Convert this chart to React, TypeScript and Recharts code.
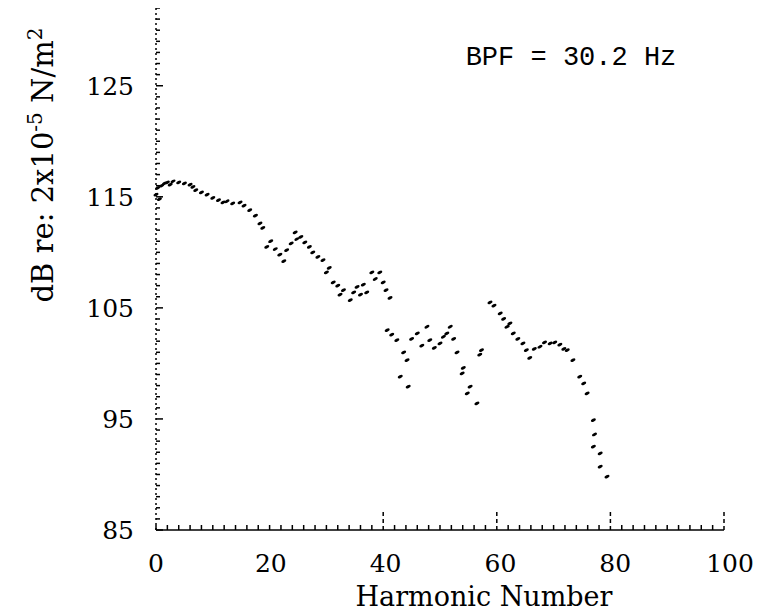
import { ScatterChart, Scatter, XAxis, YAxis, Label } from 'recharts'

// harmonic number / level (dB re 2x10^-5 N/m^2)
const harmonics = [
  0, 0.3, 0.6, 1, 1.5, 2, 2.5, 3, 4, 5, 6, 6.5, 7, 8, 9, 10, 11, 11.8, 12.5, 13.5,
  14.8, 15.5, 16.5, 17.5, 18.3, 18.8, 19.5, 20.2, 21, 21.8, 22.5, 23, 23.8, 24.5, 24.8, 25.5,
  26.2, 27, 27.6, 28.5, 29.4, 30, 30.5, 31.2, 32, 32.4, 33, 34.2, 34.8, 35.4, 36, 36.5,
  37.1, 38, 38.6, 39.4, 40, 40.5, 41.2,
  40.7, 41.5, 42.4, 43, 43.6, 44.2, 44.4, 45, 46, 46.8, 47.7, 48.2, 49, 50, 50.6, 51.2,
  51.8, 52.4, 53, 53.9, 54.1, 54.8, 55.3, 56.5, 57, 57.3,
  58.8, 59.5, 60.6, 61.2, 61.8, 62.3, 62.9, 63.7, 64.6, 65.2, 65.8, 66.6, 67.6, 68.4, 69.4,
  70.2, 71.1, 71.8, 72.4, 73.4, 74.6, 75.3, 75.9, 77, 77.2, 77, 78.2, 78.2, 79.4,
]
const levels = [
  115.2, 115.8, 114.8, 116, 116.2, 116.3, 116.1, 116.4, 116.3, 116.2, 116.1, 115.9, 115.6, 115.4, 115.2, 114.9, 114.7, 114.5, 114.6, 114.4,
  114.5, 114.2, 113.8, 113.3, 112.6, 112.2, 110.5, 111, 110.3, 109.8, 109.2, 110.2, 110.8, 111.8, 111.2, 111.4,
  110.9, 110.5, 110, 109.6, 109.3, 108.2, 108.6, 107.3, 107, 106.2, 106.6, 105.7, 106.4, 106.9, 106.2, 107.1,
  106.4, 108.2, 107.6, 108.2, 107.3, 106.6, 105.9,
  103, 102.6, 102.1, 98.8, 101, 100.3, 97.9, 102.2, 102.7, 101.6, 103.3, 102.1, 101.4, 101.8, 102.4, 102.7,
  103.3, 102.2, 101, 99.1, 99.6, 97.3, 97.9, 96.4, 100.8, 101.2,
  105.5, 105.2, 104.5, 104, 103.3, 103.6, 102.7, 102.2, 101.8, 101.2, 100.5, 101.3, 101.5, 101.9, 101.8,
  101.9, 101.7, 101.3, 101.2, 100.3, 98.8, 98.2, 97.3, 94.9, 93.6, 92.5, 91.9, 90.7, 89.8,
]

const xTicks: number[] = []
for (let i = 0; i <= 100; i += 2) xTicks.push(i)
const yTicks: number[] = []
for (let i = 85; i <= 132; i += 1) yTicks.push(i)
const xLabels = [0, 20, 40, 60, 80, 100]
const tallX = [40, 60, 80, 100]
const yLabels = [85, 95, 105, 115, 125]

const points = harmonics.map((h, i) => ({ h, db: levels[i] }))

const FONT = '"DejaVu Serif", serif'
const MONO = '"Liberation Mono", monospace'
const INK = '#000'

const Dash = ({ cx, cy }: any) => (
  <ellipse cx={cx} cy={cy} rx={2.7} ry={1.5} fill={INK} transform={`rotate(-25 ${cx} ${cy})`} />
)

const YTick = ({ x, y, payload }: any) => {
  const v = payload.value
  const major = yLabels.includes(v)
  return (
    <g>
      <line x1={x} x2={x + (major ? 7 : 4)} y1={y} y2={y} stroke={INK} strokeWidth={1.5} />
      {major && (
        <text x={x - 22} y={y} dy={9} textAnchor="end" fontFamily={FONT} fontSize={25} fill={INK}>
          {v}
        </text>
      )}
    </g>
  )
}

const XTick = ({ x, y, payload }: any) => {
  const v = payload.value
  const tall = tallX.includes(v)
  return (
    <g>
      <line x1={x} x2={x} y1={y} y2={y - (tall ? 20 : 5)} stroke={INK} strokeWidth={1.5} strokeDasharray={tall ? '4 3' : undefined} />
      {xLabels.includes(v) && (
        <text x={x + v * 0.06} y={y} dy={42} textAnchor="middle" fontFamily={FONT} fontSize={25} fill={INK}>
          {v}
        </text>
      )}
    </g>
  )
}

const YTitle = ({ viewBox }: any) => {
  const cx = 45
  const cy = viewBox.y + 157
  return (
    <text
      x={cx}
      y={cy}
      transform={`rotate(-90 ${cx} ${cy})`}
      textAnchor="middle"
      fontFamily={FONT}
      fontSize={29}
      fill={INK}
    >
      dB re: 2x10
      <tspan dy={-11} fontSize={20}>-5</tspan>
      <tspan dy={11}> N/m</tspan>
      <tspan dy={-11} fontSize={20}>2</tspan>
    </text>
  )
}

const XTitle = ({ viewBox }: any) => (
  <text x={viewBox.x + 328} y={598} textAnchor="middle" fontFamily={FONT} fontSize={27} fill={INK}>
    Harmonic Number
  </text>
)

export default function App() {
  return (
    <ScatterChart width={745} height={604} margin={{ top: 0, right: 29, bottom: 0, left: 0 }}>
      <XAxis
        type="number"
        dataKey="h"
        domain={[0, 100]}
        ticks={xTicks}
        interval={0}
        tick={<XTick />}
        tickSize={0}
        tickMargin={0}
        height={82}
        axisLine={{ stroke: INK, strokeWidth: 1.5 }}
      >
        <Label content={<XTitle />} />
      </XAxis>
      <YAxis
        type="number"
        dataKey="db"
        domain={[85, 132]}
        ticks={yTicks}
        interval={0}
        tick={<YTick />}
        tickSize={0}
        tickMargin={0}
        width={148}
        axisLine={{ stroke: INK, strokeWidth: 1.5, strokeDasharray: '2 3' }}
      >
        <Label content={<YTitle />} />
      </YAxis>
      <Scatter data={points} shape={<Dash />} isAnimationActive={false} />
      <text x={563} y={57} textAnchor="middle" fontFamily={MONO} fontSize={27} fill={INK}>
        BPF = 30.2 Hz
      </text>
    </ScatterChart>
  )
}
